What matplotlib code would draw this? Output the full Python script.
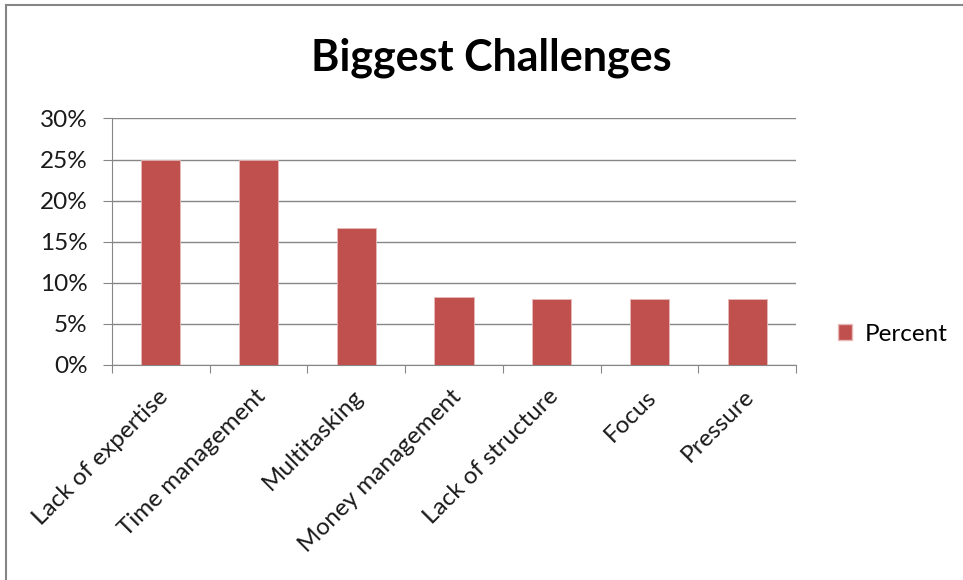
import matplotlib
matplotlib.use("Agg")
import matplotlib.pyplot as plt
from matplotlib.ticker import PercentFormatter
from matplotlib.patches import Patch
from matplotlib.lines import Line2D

# dados do grafico
categorias = ["Lack of expertise", "Time management", "Multitasking",
              "Money management", "Lack of structure", "Focus", "Pressure"]
percentual = [0.25, 0.25, 0.167, 0.083, 0.08, 0.08, 0.08]
serie = "Percent"

plt.rcParams['font.family'] = ['Lato', 'DejaVu Sans']

fig = plt.figure(figsize=(9.63, 5.8), dpi=100)
ax = fig.add_axes([0.1163, 0.3707, 0.7103, 0.4250])

pos = range(len(categorias))
ax.bar(pos, percentual, width=0.4, color='#C0504D', edgecolor='#E6B9B8', linewidth=0.6, zorder=3)

ax.set_ylim(0, 0.30)
ax.set_xlim(-0.5, len(categorias) - 0.5)
ax.set_yticks([0, 0.05, 0.10, 0.15, 0.20, 0.25, 0.30])
ax.yaxis.set_major_formatter(PercentFormatter(1.0, decimals=0))
ax.grid(axis='y', color='#868686', linewidth=1, zorder=0)

# ticks do eixo x entre as categorias
ax.set_xticks([p - 0.5 for p in range(len(categorias) + 1)])
ax.set_xticklabels([])
ax.set_xticks([p - 0.04 for p in pos], minor=True)
ax.set_xticklabels(categorias, minor=True, rotation=45, ha='right', va='top',
                   rotation_mode='anchor', fontsize=17.5, color='#1a1a1a')
ax.tick_params(axis='x', which='minor', length=0, pad=15)
ax.tick_params(axis='x', which='major', length=6, color='#868686')
ax.tick_params(axis='y', length=6.5, color='#868686', labelsize=17.5, labelcolor='#1a1a1a', pad=11)

for s in ['top', 'right']:
    ax.spines[s].set_visible(False)
ax.spines['left'].set_color('#868686')
ax.spines['bottom'].set_color('#868686')

fig.text(0.510, 0.900, "Biggest Challenges", ha='center', va='center',
         fontsize=31, fontweight='bold', color='black')

fig.legend(handles=[Patch(facecolor='#C0504D', edgecolor='#E6B9B8', label=serie)],
           loc='center left', bbox_to_anchor=(0.847, 0.424), frameon=False,
           fontsize=17.5, handlelength=0.6, handleheight=0.6, handletextpad=0.5)

# borda do grafico
fig.add_artist(Line2D([0.006, 0.006], [0, 0.992], color='#868686', linewidth=1.5))
fig.add_artist(Line2D([0.006, 1], [0.992, 0.992], color='#868686', linewidth=1.5))

fig.savefig("out.png", dpi=100)
